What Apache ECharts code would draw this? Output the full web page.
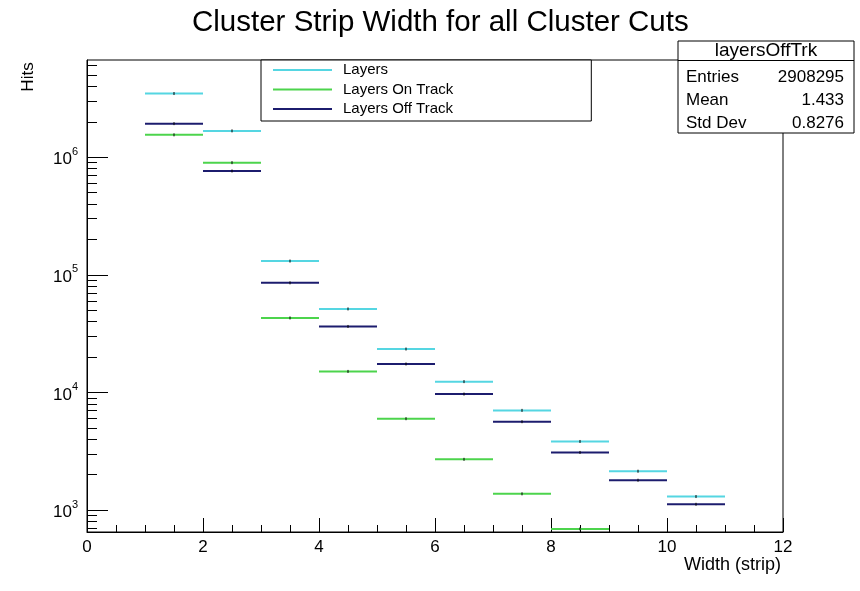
<!DOCTYPE html>
<html>
<head>
<meta charset="utf-8">
<script src="https://cdn.jsdelivr.net/npm/echarts@6/dist/echarts.min.js"></script>
<style>
html,body{margin:0;padding:0;background:#fff;}
#chart{width:860px;height:591px;}
</style>
</head>
<body>
<div id="chart"></div>
<script>
// ---- data ----
const binEdges = [1, 2, 3, 4, 5, 6, 7, 8, 9, 10, 11];
const seriesNames = ['Layers', 'Layers On Track', 'Layers Off Track'];
const layers   = [3480000, 1675000, 131000, 51300, 23400, 12360, 7040, 3830, 2140, 1303];
const onTrack  = [1550000, 899000, 43000, 15100, 5980, 2700, 1374, 692, null, null];
const offTrack = [1930000, 764000, 85500, 36400, 17460, 9690, 5640, 3090, 1794, 1120];
const xTickLabels = [0, 2, 4, 6, 8, 10, 12];
const yMajorTicks = [1e3, 1e4, 1e5, 1e6];
const yMinorTicks = [];
[100, 1000, 10000, 100000, 1000000].forEach(function (d) {
  for (let k = 2; k <= 9; k++) yMinorTicks.push(k * d);
});
const statsTitle = 'layersOffTrk';
const statsLabels = ['Entries', 'Mean', 'Std Dev'];
const statsValues = ['2908295', '1.433', '0.8276'];

const colors = ['#55d6e2', '#4cd44c', '#1c1c6e'];
const FONT = '"Liberation Sans", Arial, Helvetica, sans-serif';
const Y_MIN = 651, Y_MAX = 6710000;

function toItems(vals) {
  return vals.map(function (v, i) { return [binEdges[i], binEdges[i + 1], v]; });
}

function makeSeries(name, vals, color) {
  return {
    name: name,
    type: 'custom',
    xAxisIndex: 0,
    yAxisIndex: 0,
    clip: true,
    itemStyle: { color: color },
    encode: { x: [0, 1], y: 2 },
    data: toItems(vals),
    renderItem: function (params, api) {
      const lo = api.value(0), hi = api.value(1), v = api.value(2);
      if (v == null || isNaN(v) || v <= 0) return;
      const p1 = api.coord([lo, v]);
      const p2 = api.coord([hi, v]);
      const m = api.coord([(lo + hi) / 2, v]);
      return {
        type: 'group',
        children: [
          { type: 'line', shape: { x1: p1[0], y1: p1[1], x2: p2[0], y2: p2[1] },
            style: { stroke: color, lineWidth: 2 } },
          { type: 'line', shape: { x1: m[0], y1: m[1] - 1.5, x2: m[0], y2: m[1] + 1.5 },
            style: { stroke: '#000', lineWidth: 1 } }
        ]
      };
    }
  };
}

const statsChildren = [
  { type: 'rect', shape: { x: 678, y: 41, width: 176, height: 92 },
    style: { fill: '#fff', stroke: '#000', lineWidth: 1 } },
  { type: 'line', shape: { x1: 678, y1: 60.5, x2: 854, y2: 60.5 },
    style: { stroke: '#000', lineWidth: 1 } },
  { type: 'text', x: 766, y: 51, style: { text: statsTitle, font: '19px ' + FONT,
    fill: '#000', align: 'center', verticalAlign: 'middle' } }
];
statsLabels.forEach(function (l, i) {
  const y = 77.5 + i * 23;
  statsChildren.push({ type: 'text', x: 686, y: y, style: { text: l, font: '17px ' + FONT,
    fill: '#000', align: 'left', verticalAlign: 'middle' } });
  statsChildren.push({ type: 'text', x: 844, y: y, style: { text: statsValues[i], font: '17px ' + FONT,
    fill: '#000', align: 'right', verticalAlign: 'middle' } });
});

const chart = echarts.init(document.getElementById('chart'), null, { renderer: 'canvas' });
chart.setOption({
  animation: false,
  backgroundColor: '#fff',
  textStyle: { fontFamily: FONT },
  title: {
    text: 'Cluster Strip Width for all Cluster Cuts',
    left: 192,
    top: 8,
    padding: 0,
    textStyle: { fontSize: 29.5, fontWeight: 'normal', color: '#000', fontFamily: FONT }
  },
  grid: {
    left: 87, right: 77, top: 60, bottom: 59,
    show: true, borderColor: '#000', borderWidth: 1, backgroundColor: 'transparent'
  },
  legend: {
    data: seriesNames,
    orient: 'vertical',
    left: 261, top: 60,
    icon: 'rect',
    itemWidth: 59, itemHeight: 2,
    itemGap: 3.5,
    padding: [2, 138, 4, 12],
    borderColor: '#000', borderWidth: 1,
    backgroundColor: '#fff',
    selectedMode: false,
    textStyle: { fontSize: 15, color: '#000', lineHeight: 16, padding: [0, 0, 0, 6], fontFamily: FONT }
  },
  xAxis: {
    type: 'value',
    min: 0, max: 12, interval: 2,
    axisLine: { show: true, onZero: false, lineStyle: { color: '#000', width: 1 } },
    axisTick: { show: true, inside: true, length: 14, lineStyle: { color: '#000' } },
    minorTick: { show: true, splitNumber: 4, length: 7, lineStyle: { color: '#000' } },
    splitLine: { show: false },
    axisLabel: {
      customValues: xTickLabels,
      fontSize: 17, color: '#000', margin: 7, fontFamily: FONT
    }
  },
  yAxis: [
    {
      type: 'log', logBase: 10,
      min: Y_MIN, max: Y_MAX,
      position: 'left',
      axisLine: { show: true, lineStyle: { color: '#000', width: 1 } },
      axisTick: { show: true, inside: true, length: 21, customValues: yMajorTicks, lineStyle: { color: '#000' } },
      splitLine: { show: false },
      axisLabel: {
        customValues: yMajorTicks,
        margin: 9,
        color: '#000',
        formatter: function (v) {
          const e = Math.round(Math.log10(v));
          return '{b|10}{s|' + e + '}';
        },
        rich: {
          b: { fontSize: 17, color: '#000', fontFamily: FONT, lineHeight: 22, verticalAlign: 'bottom' },
          s: { fontSize: 11, color: '#000', fontFamily: FONT, verticalAlign: 'top', lineHeight: 22 }
        }
      }
    },
    {
      type: 'log', logBase: 10,
      min: Y_MIN, max: Y_MAX,
      position: 'left',
      axisLine: { show: false },
      axisTick: { show: true, inside: true, length: 10, customValues: yMinorTicks, lineStyle: { color: '#000' } },
      axisLabel: { show: false },
      splitLine: { show: false }
    }
  ],
  graphic: [
    { type: 'text', x: 28, y: 77, rotation: Math.PI / 2,
      style: { text: 'Hits', font: '17px ' + FONT, fill: '#000', align: 'center', verticalAlign: 'middle' } },
    { type: 'text', x: 781, y: 565,
      style: { text: 'Width (strip)', font: '18px ' + FONT, fill: '#000', align: 'right', verticalAlign: 'middle' } },
    { type: 'group', children: statsChildren }
  ],
  series: [
    makeSeries(seriesNames[0], layers, colors[0]),
    makeSeries(seriesNames[1], onTrack, colors[1]),
    makeSeries(seriesNames[2], offTrack, colors[2])
  ]
});
</script>
</body>
</html>
